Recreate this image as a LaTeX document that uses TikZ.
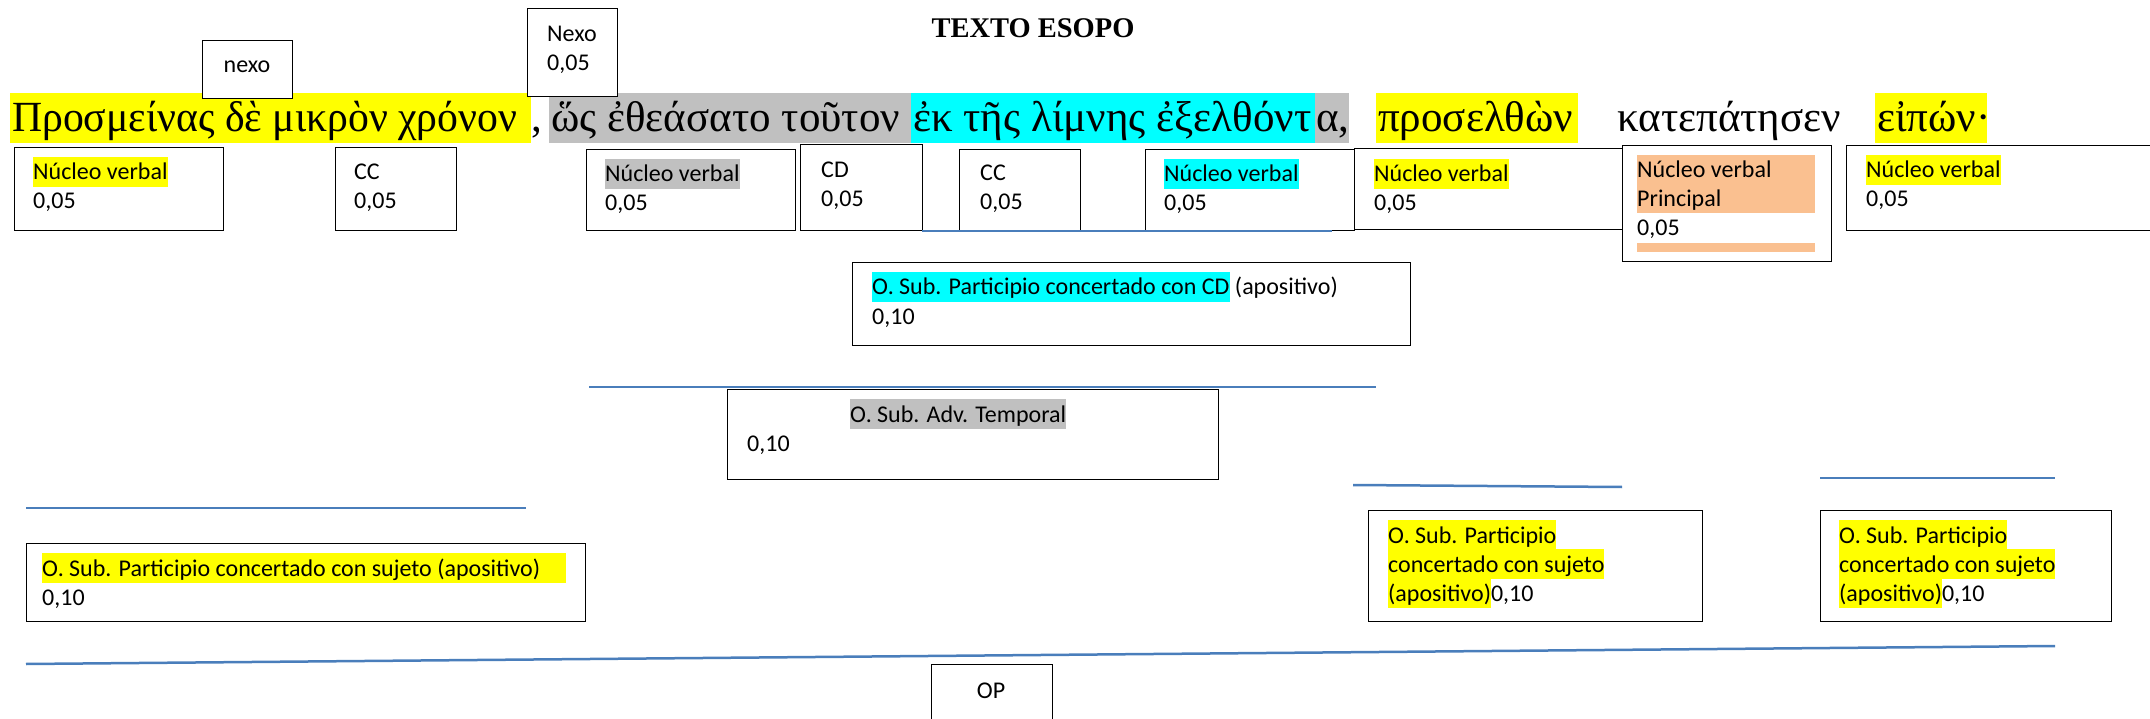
\documentclass[tikz,border=0pt]{standalone}
\usepackage{fontspec}
\setmainfont{Carlito}
\newfontfamily\gk{Liberation Serif}
\newfontfamily\titf{Liberation Serif}
\definecolor{hlyellow}{HTML}{FFFF00}
\definecolor{hlcyan}{HTML}{00FFFF}
\definecolor{hlgray}{HTML}{C0C0C0}
\definecolor{hlorange}{HTML}{FAC090}
\definecolor{lineblue}{HTML}{4A7EBB}
\newcommand{\lblf}{\fontsize{24}{29}\selectfont}
\newcommand{\gkf}{\gk\fontsize{43}{50}\selectfont}
\newcommand{\hlt}[2]{{\setlength{\fboxsep}{0pt}\colorbox{#1}{\rule[-7pt]{0pt}{30pt}#2}}}
\tikzset{
  bx/.style={draw=black, line width=1.4pt, fill=white, inner sep=0pt, anchor=north west},
  lbl/.style={font=\lblf, inner sep=0pt, anchor=base west},
  gtxt/.style={font=\gkf, inner sep=0pt, anchor=base west},
  hlr/.style={inner sep=0pt, draw=none, anchor=north west, minimum height=50pt},
  bline/.style={draw=lineblue, line width=2.5pt}
}
\begin{document}
\begin{tikzpicture}[x=1pt,y=1pt]
\useasboundingbox (0,0) rectangle (2150,-719);
\clip (0,0) rectangle (2150,-719);

% title
\node[font=\titf\bfseries\fontsize{28.5}{34}\selectfont, inner sep=0pt, anchor=base] (title) at (1033,-38) {TEXTO ESOPO};

% Greek line highlights
\node[hlr, fill=hlyellow, minimum width=521pt] (h1) at (10,-93) {};
\node[hlr, fill=hlgray, minimum width=362pt] (h2) at (549,-93) {};
\node[hlr, fill=hlcyan, minimum width=404pt] (h3) at (911,-93) {};
\node[hlr, fill=hlgray, minimum width=34pt] (h4) at (1315,-93) {};
\node[hlr, fill=hlyellow, minimum width=202pt] (h5) at (1376,-93) {};
\node[hlr, fill=hlyellow, minimum width=112pt] (h6) at (1875,-93) {};

% Greek text
\node[gtxt] (g1) at (12,-132) {\scalebox{0.97}[1]{Προσμείνας δὲ μικρὸν χρόνον}};
\node[gtxt] (g2) at (531,-132) {,};
\node[gtxt] (g3) at (551,-132) {ὥς ἐθεάσατο τοῦτον};
\node[gtxt] (g4) at (913,-132) {ἐκ τῆς λίμνης ἐξελθόντ};
\node[gtxt] (g5) at (1316,-132) {α,};
\node[gtxt] (g6) at (1378,-132) {προσελθὼν};
\node[gtxt] (g7) at (1617,-132) {κατεπάτησεν};
\node[gtxt] (g8) at (1877,-132) {εἰπών·};

% top boxes
\node[bx, minimum width=90pt, minimum height=58pt] (bnexo) at (202,-40) {};
\node[lbl, anchor=base] (tnexo) at (247,-73) {nexo};
\node[bx, minimum width=90pt, minimum height=88pt] (bNexo) at (527,-8) {};
\node[lbl] (tNexo1) at (547,-42) {Nexo};
\node[lbl] (tNexo2) at (547,-71) {0,05};

% row 1 boxes
\node[bx, minimum width=209pt, minimum height=83pt] (bA) at (14,-147) {};
\node[lbl] (tA1) at (33,-180) {\hlt{hlyellow}{Núcleo verbal}};
\node[lbl] (tA2) at (33,-209) {0,05};

\node[bx, minimum width=121pt, minimum height=83pt] (bB) at (335,-147) {};
\node[lbl] (tB1) at (354,-180) {CC};
\node[lbl] (tB2) at (354,-209) {0,05};

\node[bx, minimum width=209pt, minimum height=81pt] (bC) at (586,-149) {};
\node[lbl] (tC1) at (605,-182) {\hlt{hlgray}{Núcleo verbal}};
\node[lbl] (tC2) at (605,-211) {0,05};

\node[bx, minimum width=122pt, minimum height=86pt] (bD) at (800,-144) {};
\node[lbl] (tD1) at (821,-178) {CD};
\node[lbl] (tD2) at (821,-207) {0,05};

\node[bx, minimum width=121pt, minimum height=81pt] (bE) at (959,-149) {};
\node[lbl] (tE1) at (980,-181) {CC};
\node[lbl] (tE2) at (980,-210) {0,05};

\node[bx, minimum width=209pt, minimum height=81pt] (bF) at (1145,-149) {};
\node[lbl] (tF1) at (1164,-182) {\hlt{hlcyan}{Núcleo verbal}};
\node[lbl] (tF2) at (1164,-211) {0,05};

\node[bx, minimum width=268pt, minimum height=81pt] (bG) at (1354,-148) {};
\node[lbl] (tG1) at (1374,-182) {\hlt{hlyellow}{Núcleo verbal}};
\node[lbl] (tG2) at (1374,-211) {0,05};

\node[bx, minimum width=209pt, minimum height=116pt] (bH) at (1622,-145) {};
\node[inner sep=0pt, fill=hlorange, anchor=north west, minimum width=178pt, minimum height=58pt] (oH1) at (1637,-155) {};
\node[inner sep=0pt, fill=hlorange, anchor=north west, minimum width=178pt, minimum height=9pt] (oH2) at (1637,-243) {};
\node[lbl] (tH1) at (1637,-178) {Núcleo verbal};
\node[lbl] (tH2) at (1637,-207) {Principal};
\node[lbl] (tH3) at (1637,-236) {0,05};

\node[bx, minimum width=324pt, minimum height=85pt] (bI) at (1846,-145) {};
\node[lbl] (tI1) at (1866,-178) {\hlt{hlyellow}{Núcleo verbal}};
\node[lbl] (tI2) at (1866,-207) {0,05};

% row 2
\node[bx, minimum width=558pt, minimum height=83pt] (bCD) at (852,-262) {};
\node[lbl] (tCD1) at (872,-295) {\hlt{hlcyan}{O. Sub. Participio concertado con CD} (apositivo)};
\node[lbl] (tCD2) at (872,-324) {0,10};

\node[bx, minimum width=491pt, minimum height=90pt] (bT) at (727,-389) {};
\node[lbl] (tT1) at (850,-422) {\hlt{hlgray}{O. Sub. Adv. Temporal}};
\node[lbl] (tT2) at (747,-451) {0,10};

% row 3
\node[bx, minimum width=559pt, minimum height=78pt] (bS) at (26,-543) {};
\node[lbl] (tS1) at (42,-576) {\hlt{hlyellow}{O. Sub. Participio concertado con sujeto (apositivo)\hspace{26pt}}};
\node[lbl] (tS2) at (42,-605) {0,10};

\node[bx, minimum width=334pt, minimum height=111pt] (bR1) at (1368,-510) {};
\node[lbl] (tR11) at (1388,-543) {\hlt{hlyellow}{O. Sub. Participio}};
\node[lbl] (tR12) at (1388,-572) {\hlt{hlyellow}{concertado con sujeto}};
\node[lbl] (tR13) at (1388,-601) {\hlt{hlyellow}{(apositivo)}0,10};

\node[bx, minimum width=291pt, minimum height=111pt] (bR2) at (1820,-510) {};
\node[lbl] (tR21) at (1839,-543) {\hlt{hlyellow}{O. Sub. Participio}};
\node[lbl] (tR22) at (1839,-572) {\hlt{hlyellow}{concertado con sujeto}};
\node[lbl] (tR23) at (1839,-601) {\hlt{hlyellow}{(apositivo)}0,10};

% OP
\node[bx, minimum width=121pt, minimum height=70pt] (bOP) at (931,-664) {};
\node[lbl, anchor=base] (tOP) at (991,-698) {OP};

% blue lines
\coordinate (l1a) at (589,-387); \coordinate (l1b) at (1376,-387);
\coordinate (l2a) at (922,-231); \coordinate (l2b) at (1332,-231);
\coordinate (l3a) at (1820,-478); \coordinate (l3b) at (2055,-478);
\coordinate (l4a) at (1353,-485); \coordinate (l4b) at (1622,-487);
\coordinate (l5a) at (26,-508); \coordinate (l5b) at (526,-508);
\coordinate (l6a) at (26,-664); \coordinate (l6b) at (2055,-646);
\draw[bline] (l1a) -- (l1b);
\draw[bline] (l2a) -- (l2b);
\draw[bline] (l3a) -- (l3b);
\draw[bline] (l4a) -- (l4b);
\draw[bline] (l5a) -- (l5b);
\draw[bline] (l6a) -- (l6b);
\end{tikzpicture}
\end{document}
